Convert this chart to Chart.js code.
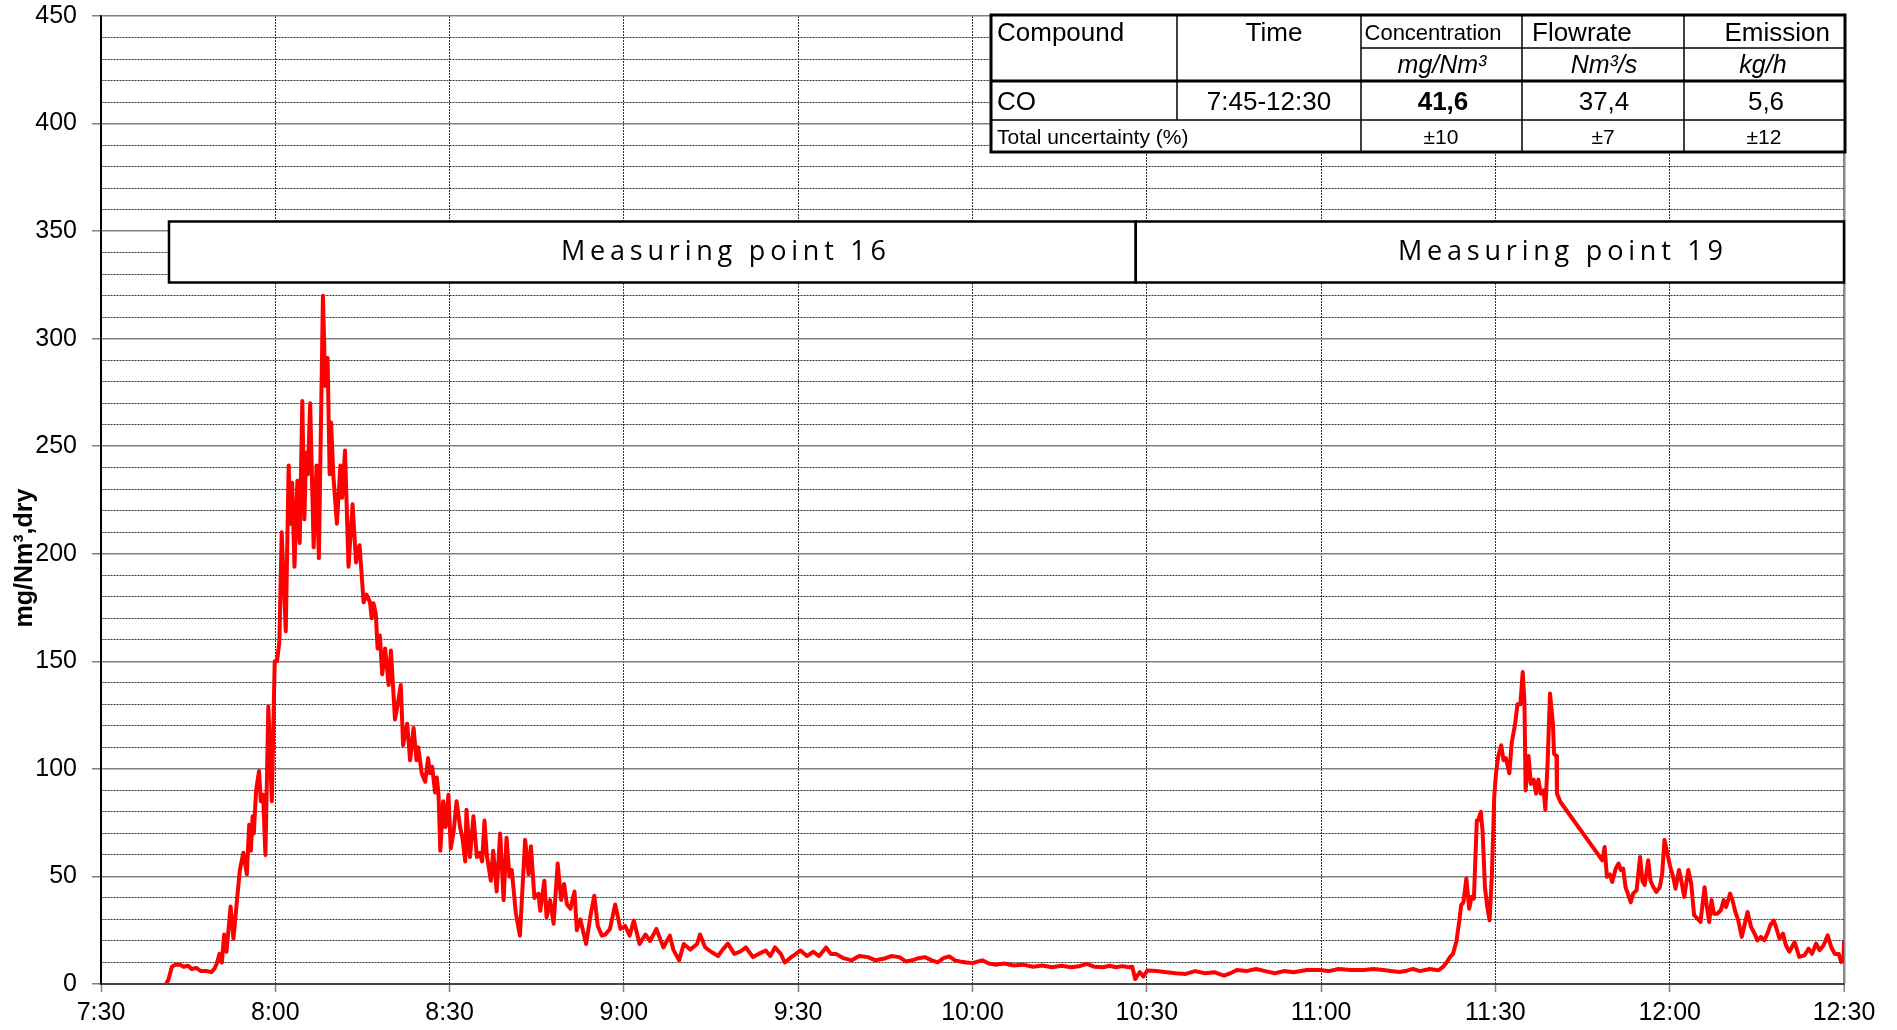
<!DOCTYPE html>
<html lang="en">
<head>
  <meta charset="UTF-8">
  <title>CO concentration</title>
  <script src="https://cdn.jsdelivr.net/npm/chart.js"></script>
  <style>
    html, body { margin: 0; padding: 0; background: #fff; }
    #wrap { width: 1897px; height: 1030px; position: relative; }
  </style>
</head>
<body>
  <div id="wrap"><canvas id="coChart"></canvas></div>

  <script>
    // minutes after 7:30 and CO in mg/Nm3,dry
    const timeMin = [
      11.2, 11.6, 12.2, 12.8, 13.6, 14.2, 15.0, 15.6, 16.4, 17.2, 18.2, 19.0, 19.5, 19.9, 20.4, 20.8,
      21.2, 21.6, 22.3, 22.8, 23.3, 23.9, 24.5, 25.1, 25.5, 25.8, 26.1, 26.3, 26.7, 27.2, 27.5, 27.9,
      28.3, 28.8, 29.4, 29.9, 30.3, 30.7, 31.1, 31.8, 32.3, 32.6, 32.9, 33.3, 33.8, 34.2, 34.65, 35.0,
      35.3, 35.6, 36.0, 36.6, 37.1, 37.5, 38.2, 38.6, 39.0, 39.35, 39.6, 40.0, 40.6, 41.2, 41.5, 42.0,
      42.6, 43.3, 43.9, 44.5, 45.2, 45.7, 46.3, 46.6, 46.9, 47.3, 47.6, 48.0, 48.4, 48.9, 49.5, 49.9,
      50.6, 51.0, 51.6, 52.0, 52.7, 53.2, 53.8, 54.3, 54.6, 55.2, 55.8, 56.3, 56.6, 57.0, 57.5, 57.8,
      58.1, 58.4, 58.9, 59.3, 59.8, 60.2, 60.7, 61.2, 61.8, 62.2, 62.7, 62.9, 63.5, 64.1, 64.7, 65.2,
      65.6, 66.0, 66.4, 67.1, 67.5, 68.1, 68.7, 69.3, 69.8, 70.3, 70.7, 71.4, 72.1, 73.0, 73.6, 74.0,
      74.6, 75.3, 75.6, 76.3, 76.7, 77.3, 77.9, 78.6, 79.2, 79.7, 80.2, 80.8, 81.5, 81.9, 82.5, 83.5,
      84.3, 84.9, 85.5, 86.2, 86.8, 87.6, 88.5, 89.4, 90.2, 91.0, 91.7, 92.7, 93.7, 94.5, 95.6, 96.8,
      97.9, 98.5, 99.5, 100.3, 101.4, 102.6, 103.1, 104.0, 105.0, 106.2, 107.0, 107.9, 109.0, 110.0, 111.0, 112.2,
      113.2, 114.4, 115.2, 116.0, 117.0, 117.7, 118.8, 119.6, 120.4, 121.5, 122.6, 123.6, 124.8, 125.6, 126.5, 127.8,
      129.2, 130.5, 132.0, 133.3, 134.7, 136.0, 137.4, 138.5, 139.6, 140.7, 141.8, 143.0, 144.0, 145.0, 146.0, 147.0,
      147.8, 149.0, 150.0, 151.0, 151.7, 152.8, 153.9, 155.5, 157.1, 158.7, 160.4, 162.0, 163.7, 165.3, 167.0, 168.3,
      169.7, 171.0, 172.5, 173.6, 174.7, 175.8, 176.9, 177.5, 178.0, 178.4, 178.8, 179.4, 180.1, 181.7, 183.4, 185.0,
      186.7, 188.3, 190.0, 191.6, 193.3, 194.4, 195.5, 197.1, 198.8, 200.4, 202.0, 203.6, 205.3, 207.5, 209.7, 211.3,
      213.0, 215.2, 217.4, 219.0, 220.7, 222.0, 223.5, 224.5, 225.8, 227.0, 228.7, 230.2, 231.0, 231.6, 232.2, 232.7,
      233.3, 233.8, 234.1, 234.5, 235.0, 235.5, 235.9, 236.3, 236.8, 237.0, 237.5, 237.8, 238.2, 238.6, 239.0, 239.4,
      239.8, 240.1, 240.5, 241.0, 241.4, 241.8, 242.4, 242.8, 243.4, 243.8, 244.3, 244.7, 245.0, 245.2, 245.7, 246.1,
      246.6, 247.0, 247.4, 247.8, 248.3, 248.6, 249.0, 249.4, 249.9, 250.1, 250.5, 250.6, 251.2, 258.4, 258.8, 259.2,
      259.7, 260.1, 260.7, 261.2, 261.6, 262.0, 262.4, 262.8, 263.3, 263.7, 264.3, 264.9, 265.3, 265.7, 266.3, 266.7,
      267.2, 267.7, 268.3, 268.7, 269.1, 269.6, 270.1, 270.6, 271.0, 271.6, 272.0, 272.5, 273.2, 273.7, 274.2, 274.8,
      275.3, 275.6, 276.0, 276.4, 276.8, 277.2, 277.6, 278.2, 278.8, 279.3, 279.7, 280.4, 280.8, 281.3, 281.8, 282.4,
      282.8, 283.4, 284.0, 284.6, 285.1, 285.7, 286.3, 286.9, 287.3, 287.9, 288.3, 288.9, 289.5, 290.0, 290.6, 291.5,
      292.3, 293.2, 293.9, 294.5, 295.2, 295.8, 296.5, 297.2, 297.8, 298.4, 299.1, 299.5, 299.9, 300.0
    ];
    const coMgNm3 = [
      0, 2, 8, 9, 9, 8, 8.5, 7, 7.5, 6, 6, 5.5, 7, 9.3, 14, 10,
      23, 15, 36, 21, 36, 53, 61, 51, 74, 62, 78, 70, 90, 99, 85, 88,
      60, 129, 85, 150, 150, 159, 210, 164, 241, 214, 233, 194, 234, 205, 271, 216,
      247, 237, 270, 203, 241, 198, 320, 278, 291, 237, 261, 236, 214, 241, 226, 248,
      194, 223, 196, 204, 177.5, 181, 177.5, 170, 177, 172, 156, 162, 144, 156, 139, 155,
      123, 129, 139, 111, 121, 104, 119, 104, 110, 98, 94, 105, 98, 101, 89, 96,
      88, 62, 85, 73, 88, 63, 71, 85, 73, 68, 57, 81, 59, 78, 59, 61,
      57, 76, 60, 48, 62, 43, 70, 39, 68, 50, 53, 33, 22.5, 67, 51, 64,
      40, 42, 34, 48, 31, 39, 28, 56, 39, 46.5, 37, 35, 43, 25, 30, 18.6,
      32.6, 41, 27, 22.5, 23, 25.6, 37, 25.6, 27, 22.5, 29.5, 18.6, 23, 20, 25.6, 17,
      22.5, 16, 11, 18.6, 16, 18.6, 23, 17, 15, 13, 16, 18.75, 14, 15, 17, 12.5,
      14, 15.6, 13, 17, 14, 10, 12.5, 14, 15.6, 13, 15, 13, 17, 14, 14, 12,
      11, 13, 12.5, 11, 11.7, 13, 12.5, 10.5, 11, 12, 12.5, 11, 10, 12, 12.8, 11,
      10.5, 10, 9.7, 10.5, 11, 9.5, 9, 9.5, 8.6, 9, 8, 8.6, 7.8, 8.5, 7.8, 8.2,
      9.4, 8, 7.8, 8.5, 7.8, 8.3, 7.8, 8, 2.3, 4, 5.5, 3.5, 6.25, 6, 5.5, 5,
      4.7, 6, 5, 5.5, 3.9, 5, 6.5, 6, 7, 6, 5, 6, 5.5, 6.5, 6.5, 6,
      7, 6.5, 6.5, 7, 6.5, 6, 5.6, 6, 7, 6, 7, 6.4, 8, 10, 12.6, 14,
      20, 29.6, 36.6, 38, 49, 35, 40.5, 39.7, 76, 76, 80, 70.7, 45, 35.8, 29.6, 51,
      87, 98, 106, 111, 104, 105, 98, 112, 121, 130, 130, 145, 131, 90, 106, 93,
      95, 88.5, 95, 88.5, 90, 81, 104, 135, 121, 107, 106, 88.5, 84.6, 57.5, 63.7, 49.8,
      51, 47.4, 53.6, 56, 53, 53.6, 45, 42, 38, 42, 43.6, 59, 48, 46, 57.5, 48,
      45, 42.8, 45, 51, 67, 60.6, 54.4, 49.8, 44.3, 53, 48, 40.5, 53, 46.7, 32, 30.4,
      28.8, 35.8, 45, 35.8, 28.8, 39, 32.7, 32.7, 34.3, 39, 35.8, 42, 39, 33.5, 29.6, 21.9,
      26.5, 33.5, 26.5, 23.4, 20.3, 21.9, 20.3, 24, 27.3, 29.6, 26.5, 21, 23.4, 18, 15, 19.5,
      12.6, 13.3, 16.4, 14, 18.8, 15.7, 18, 22.6, 17.2, 14, 14, 10.2, 11, 19.5
    ];
    const xTickLabels = ['7:30', '8:00', '8:30', '9:00', '9:30', '10:00', '10:30', '11:00', '11:30', '12:00', '12:30'];
    const yAxisTitle = 'mg/Nm³,dry';

    const pointLabels = ['Measuring point 16', 'Measuring point 19'];
    const pointBoxEdges = [11.7, 178.1, 300];   // box edges in minutes after 7:30

    const tableHead = ['Compound', 'Time', 'Concentration', 'Flowrate', 'Emission'];
    const tableUnits = ['mg/Nm³', 'Nm³/s', 'kg/h'];
    const tableRow = ['CO', '7:45-12:30', '41,6', '37,4', '5,6'];
    const tableUncert = ['Total uncertainty (%)', '±10', '±7', '±12'];

    const FONT = '"Liberation Sans", Arial, sans-serif';
    const isMajor = v => Math.round(v) % 50 === 0;

    // table, measuring point boxes and axis title
    const overlay = {
      id: 'overlay',
      afterDraw(chart) {
        const ctx = chart.ctx;
        const xs = chart.scales.x;

        // measuring point boxes
        const bx = pointBoxEdges.map(m => xs.getPixelForValue(m));
        const textStart = [561, 1398];
        ctx.save();
        for (let i = 0; i < pointLabels.length; i++) {
          ctx.fillStyle = '#fff';
          ctx.fillRect(bx[i], 221.5, bx[i + 1] - bx[i], 61);
          ctx.strokeStyle = '#000';
          ctx.lineWidth = 2.5;
          ctx.strokeRect(bx[i], 221.5, bx[i + 1] - bx[i], 61);
          ctx.font = '27px "Open Sans", sans-serif';
          ctx.fillStyle = '#000';
          ctx.textAlign = 'left';
          ctx.textBaseline = 'alphabetic';
          const t = pointLabels[i];
          const w0 = ctx.measureText(t).width;
          ctx.letterSpacing = ((325 - w0) / (t.length - 1)).toFixed(2) + 'px';
          ctx.fillText(t, textStart[i], 260);
          ctx.letterSpacing = '0px';
        }
        ctx.restore();

        // result table
        const cx = [991, 1177, 1361, 1522, 1684, 1845];
        const ry = [15, 48, 81, 120, 152];
        ctx.save();
        ctx.fillStyle = '#fff';
        ctx.fillRect(cx[0], ry[0], cx[5] - cx[0], ry[4] - ry[0]);
        ctx.strokeStyle = '#000';
        const line = (x1, y1, x2, y2, w) => {
          ctx.lineWidth = w;
          ctx.beginPath();
          ctx.moveTo(x1, y1);
          ctx.lineTo(x2, y2);
          ctx.stroke();
        };
        line(cx[2], ry[1], cx[5], ry[1], 1.5);
        line(cx[0], ry[3], cx[5], ry[3], 1.5);
        line(cx[1], ry[0], cx[1], ry[3], 1.5);
        line(cx[2], ry[0], cx[2], ry[4], 1.5);
        line(cx[3], ry[0], cx[3], ry[4], 1.5);
        line(cx[4], ry[0], cx[4], ry[4], 1.5);
        line(cx[0], ry[2], cx[5], ry[2], 3);
        ctx.lineWidth = 3;
        ctx.strokeRect(cx[0], ry[0], cx[5] - cx[0], ry[4] - ry[0]);

        ctx.fillStyle = '#000';
        ctx.textBaseline = 'alphabetic';
        const txt = (s, x, y, font, align) => {
          ctx.font = font;
          ctx.textAlign = align;
          ctx.fillText(s, x, y);
        };
        txt(tableHead[0], 997, 41, '26px ' + FONT, 'left');
        txt(tableHead[1], 1274, 41, '26px ' + FONT, 'center');
        txt(tableHead[2], 1433, 40, '22px ' + FONT, 'center');
        txt(tableHead[3], 1532, 41, '26px ' + FONT, 'left');
        txt(tableHead[4], 1830, 41, '26px ' + FONT, 'right');
        txt(tableUnits[0], 1442, 73, 'italic 25px ' + FONT, 'center');
        txt(tableUnits[1], 1604, 73, 'italic 25px ' + FONT, 'center');
        txt(tableUnits[2], 1763, 73, 'italic 25px ' + FONT, 'center');
        txt(tableRow[0], 997, 110, '26px ' + FONT, 'left');
        txt(tableRow[1], 1269, 110, '26px ' + FONT, 'center');
        txt(tableRow[2], 1443, 110, 'bold 26px ' + FONT, 'center');
        txt(tableRow[3], 1604, 110, '26px ' + FONT, 'center');
        txt(tableRow[4], 1766, 110, '26px ' + FONT, 'center');
        txt(tableUncert[0], 997, 144, '21px ' + FONT, 'left');
        txt(tableUncert[1], 1441, 144, '21px ' + FONT, 'center');
        txt(tableUncert[2], 1603, 144, '21px ' + FONT, 'center');
        txt(tableUncert[3], 1764, 144, '21px ' + FONT, 'center');
        ctx.restore();

        // y axis title
        ctx.save();
        ctx.translate(25, 558);
        ctx.rotate(-Math.PI / 2);
        ctx.font = 'bold 25px ' + FONT;
        ctx.fillStyle = '#000';
        ctx.textAlign = 'center';
        ctx.textBaseline = 'middle';
        ctx.fillText(yAxisTitle, 0, 0);
        ctx.restore();
      }
    };

    const ctx = document.getElementById('coChart').getContext('2d');
    const coChart = new Chart(ctx, {
      type: 'line',
      data: {
        datasets: [{
          label: 'CO',
          data: timeMin.map((t, i) => ({ x: t, y: coMgNm3[i] })),
          borderColor: '#ff0000',
          borderWidth: 4,
          borderJoinStyle: 'round',
          borderCapStyle: 'round',
          pointRadius: 0,
          tension: 0,
          fill: false
        }]
      },
      options: {
        responsive: true,
        maintainAspectRatio: false,
        animation: false,
        layout: { padding: { top: 16, right: 53, left: 0, bottom: 0 } },
        plugins: {
          legend: { display: false },
          tooltip: { enabled: false }
        },
        scales: {
          x: {
            type: 'linear',
            min: 0,
            max: 300,
            afterFit(s) { s.height = 46; },
            ticks: {
              stepSize: 30,
              autoSkip: false,
              maxRotation: 0,
              padding: 6,
              color: '#000',
              font: { family: FONT, size: 25 },
              callback: v => xTickLabels[Math.round(v / 30)]
            },
            grid: {
              color: c => (c.tick && c.tick.value === 300) ? '#8a8a8a' : (c.tick && c.tick.value === 0 ? '#000' : '#333'),
              lineWidth: c => (c.tick && c.tick.value === 300) ? 2.5 : 1,
              tickLength: 8,
              tickColor: '#808080',
              tickWidth: 1.5
            },
            border: {
              display: true,
              color: '#444',
              width: 2,
              dash: c => (c.tick && c.tick.value > 0 && c.tick.value < 300) ? [2, 1] : []
            }
          },
          y: {
            min: 0,
            max: 450,
            afterFit(s) {
              s.width = 101;
              s.paddingTop = 0;
              s.paddingBottom = 0;
            },
            ticks: {
              stepSize: 10,
              autoSkip: false,
              maxTicksLimit: 100,
              padding: 15,
              color: '#000',
              font: { family: FONT, size: 25 },
              callback: v => isMajor(v) ? String(Math.round(v)) : ''
            },
            grid: {
              color: c => (c.tick && isMajor(c.tick.value)) ? '#808080' : '#333',
              lineWidth: c => (c.tick && isMajor(c.tick.value)) ? 1.5 : 1,
              tickLength: 9,
              tickColor: c => (c.tick && isMajor(c.tick.value)) ? '#808080' : 'rgba(0,0,0,0)',
              tickWidth: 1.5
            },
            border: {
              display: true,
              color: '#000',
              width: 1.5,
              dash: c => (c.tick && !isMajor(c.tick.value)) ? [2, 1] : []
            }
          }
        }
      },
      plugins: [overlay]
    });
  </script>
</body>
</html>
